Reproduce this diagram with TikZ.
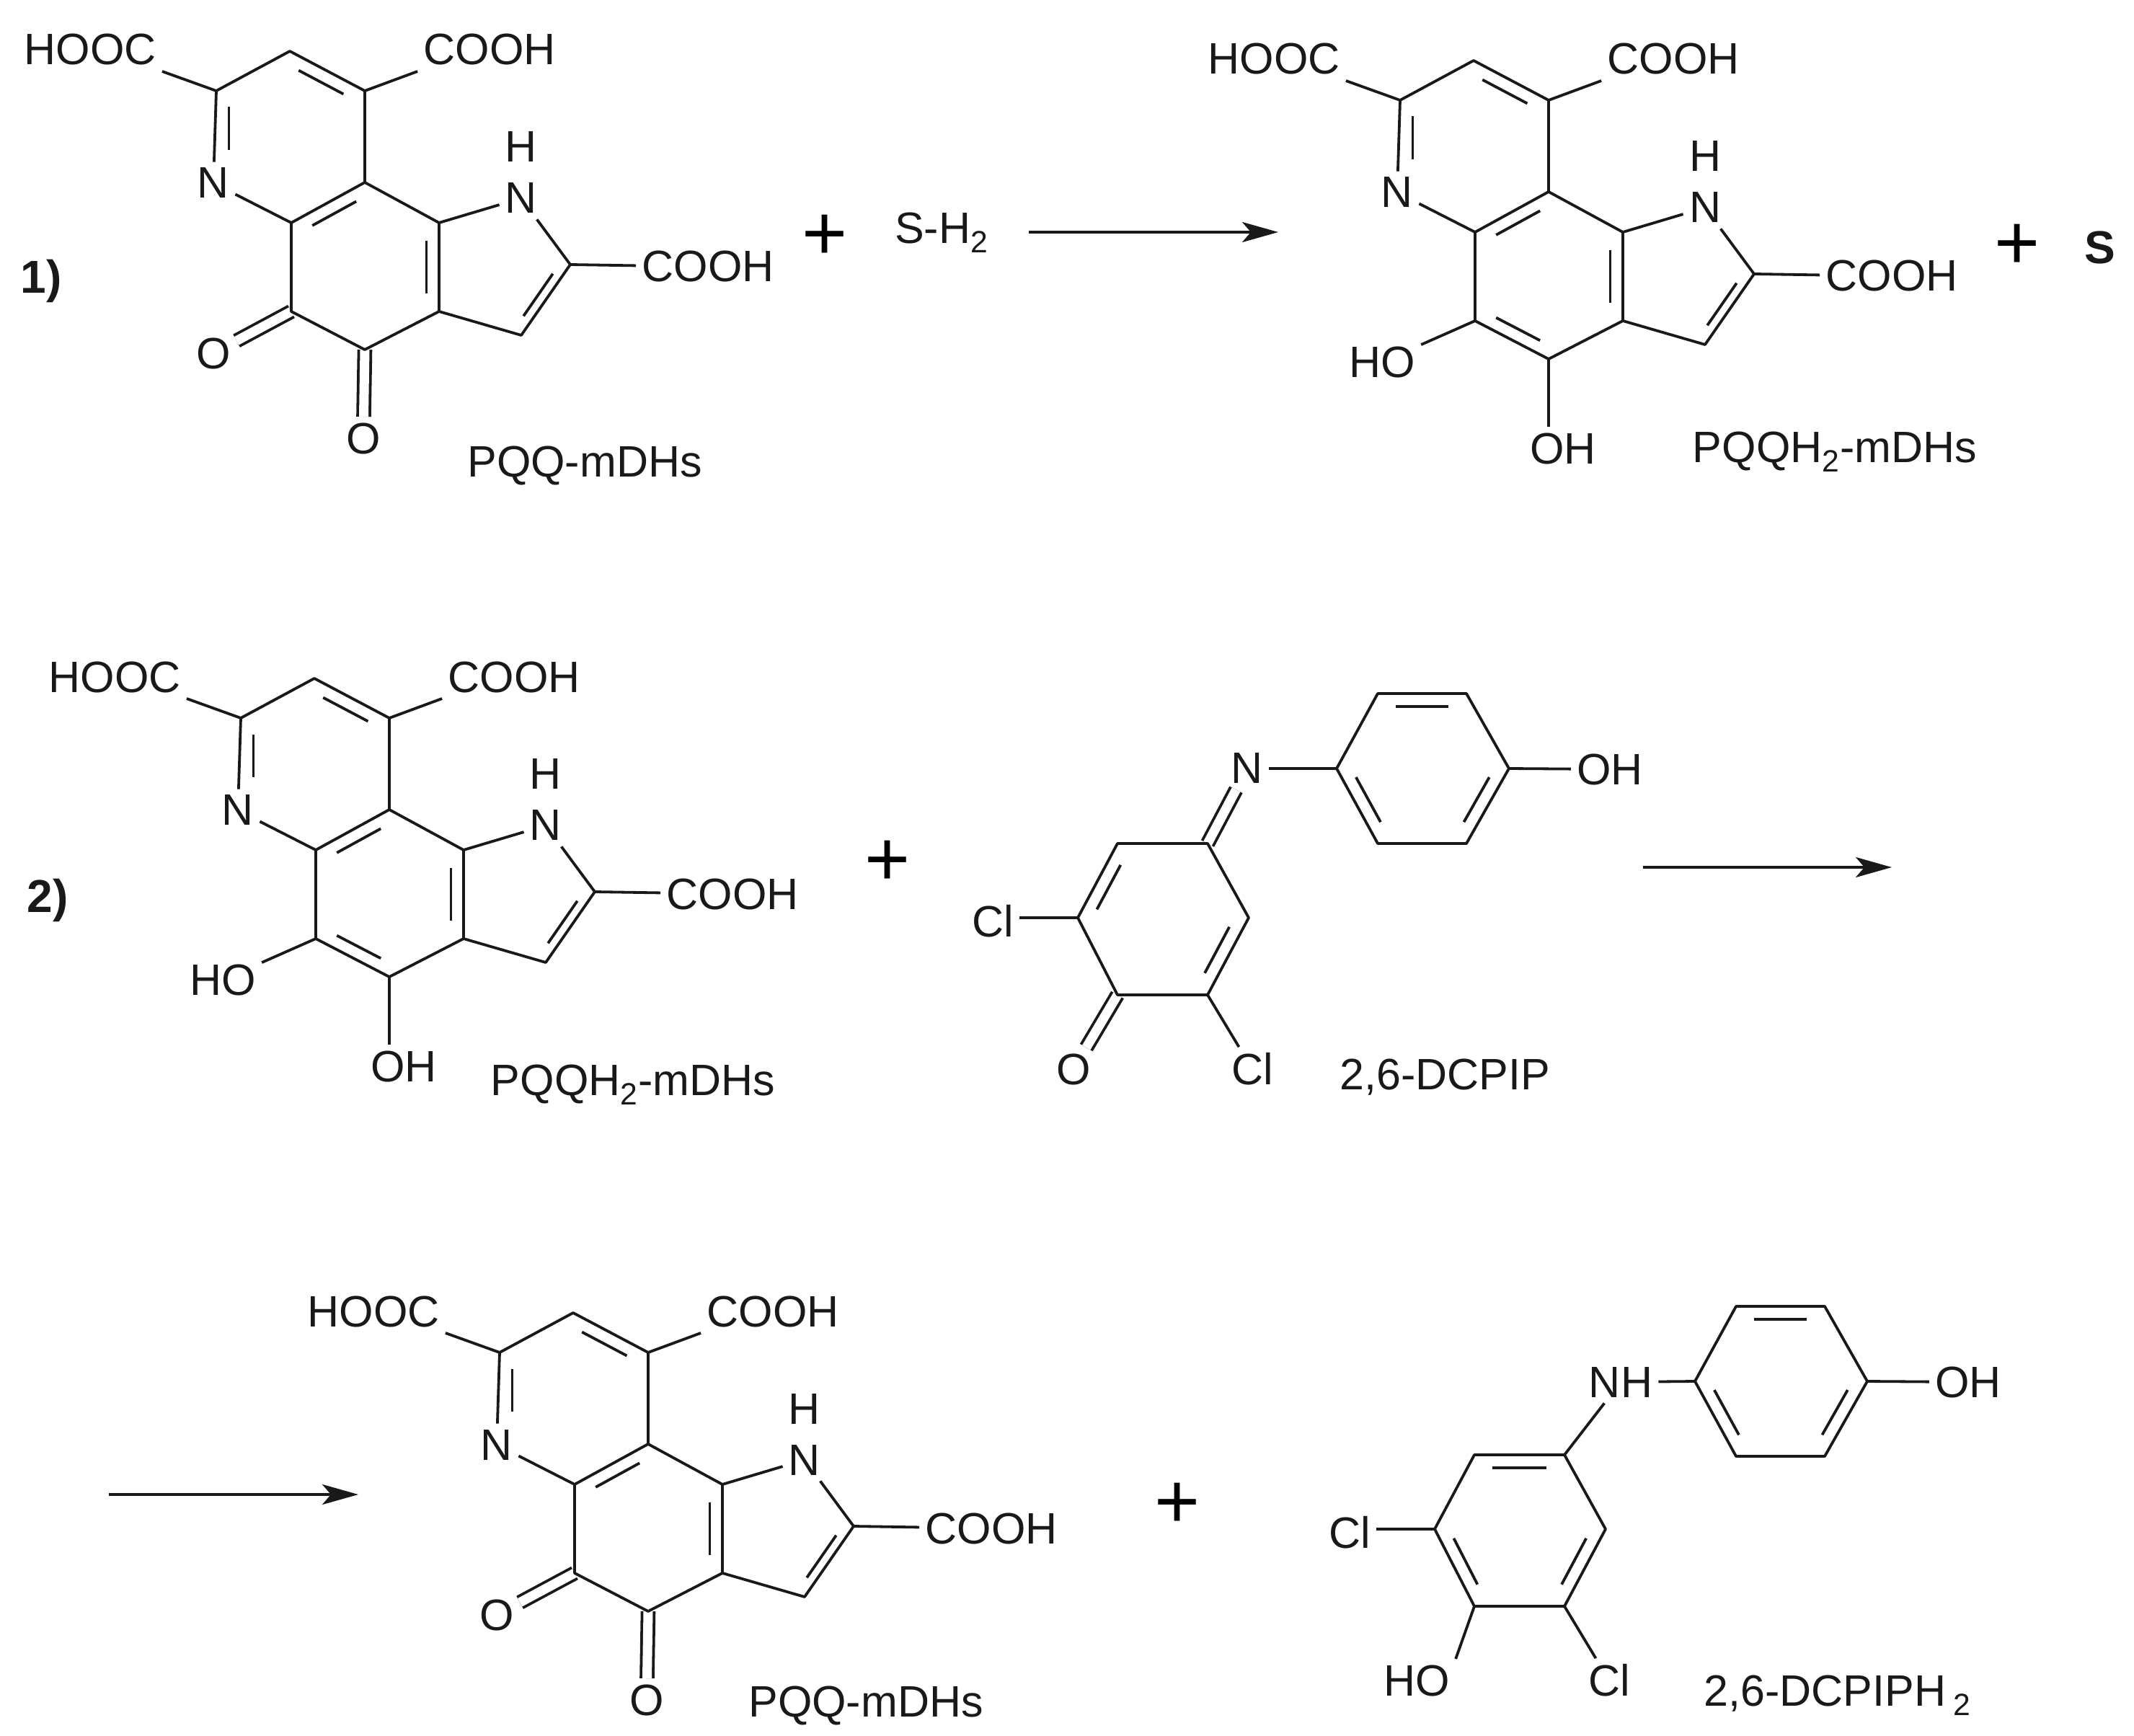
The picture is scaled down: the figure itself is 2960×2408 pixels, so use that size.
\documentclass[tikz,border=0pt]{standalone}
\usepackage{fontspec}
\setmainfont{Liberation Sans}
\usetikzlibrary{arrows.meta,calc}

\newcommand{\innerbond}[3]{\draw[bond] ($(#1)!.14!(#2)!.17!(#3)$) -- ($(#2)!.14!(#1)!.17!(#3)$);}

% tricyclic part shared by both redox forms
\newcommand{\pqqatoms}{
  \coordinate (c7) at (300,126);
  \coordinate (c8) at (402,71);
  \coordinate (c9) at (506,126);
  \coordinate (c9a) at (506,253);
  \coordinate (c4a) at (404,309);
  \coordinate (c5) at (404,432);
  \coordinate (c4) at (506,485);
  \coordinate (c3a) at (609,432);
  \coordinate (c9b) at (609,309);
  \coordinate (c2) at (791,367);
  \coordinate (c3) at (723,465);
  \coordinate (nb) at (300,226);
  \coordinate (pyr) at (403,190);
  \coordinate (mid) at (506,370);
  \coordinate (fiv) at (695,375);
}
\newcommand{\pqqcore}{
  \node[atom] (hooc) at (125,69) {HOOC};
  \node[atom] (cooha) at (679,69) {COOH};
  \node[atom] (coohb) at (982,370) {COOH};
  \node[atom] (n5) at (296,254) {N};
  \node[atom] (n1) at (723,275) {N};
  \node[atom] (h1) at (723,204) {H};
  \draw[bond] (hooc.south east) -- (c7) -- (c8) -- (c9) -- (cooha.south west);
  \draw[bond] (c7) -- (n5) -- (c4a) -- (c9a) -- (c9) (c9a) -- (c9b) -- (n1) -- (c2) -- (coohb);
  \draw[bond] (c4a) -- (c5) -- (c4) -- (c3a) -- (c9b) (c3a) -- (c3) -- (c2);
  \innerbond{c7}{nb}{pyr}
  \innerbond{c8}{c9}{pyr}
  \innerbond{c9a}{c4a}{mid}
  \innerbond{c9b}{c3a}{mid}
  \innerbond{c3}{c2}{fiv}
}
\newcommand{\pqqoxo}{
  \pqqatoms
  \node[atom] (oa) at (296,490) {O};
  \node[atom] (ob) at (504,608) {O};
  \draw[dbond] (c5) -- (oa);
  \draw[dbond] (c4) -- (ob);
  \pqqcore
}
\newcommand{\pqqred}{
  \pqqatoms
  \pqqcore
  \node[atom] (hoa) at (275,489) {HO};
  \node[atom] (hob) at (526,609) {OH};
  \draw[bond] (c5) -- (hoa);
  \draw[bond] (c4) -- (hob.north -| c4);
  \innerbond{c5}{c4}{mid}
}
% the hydroxyphenyl ring, centred on the scope origin
\newcommand{\phenolring}{
  \coordinate (p1) at (-62,-104);
  \coordinate (p2) at (61,-104);
  \coordinate (p3) at (120,0);
  \coordinate (p4) at (61,104);
  \coordinate (p5) at (-62,104);
  \coordinate (p6) at (-119,0);
  \coordinate (pc) at (0,0);
  \node[atom] (oh) at (260,1) {OH};
  \draw[bond] (p1) -- (p2) -- (p3) -- (p4) -- (p5) -- (p6) -- cycle;
  \draw[bond] (p3) -- (oh);
  \innerbond{p1}{p2}{pc}
  \innerbond{p3}{p4}{pc}
  \innerbond{p5}{p6}{pc}
}
% the chlorinated ring, centred on the scope origin
\newcommand{\chloroatoms}{
  \coordinate (r1) at (62,-105);
  \coordinate (r2) at (-63,-105);
  \coordinate (r3) at (-118,-2);
  \coordinate (r4) at (-63,105);
  \coordinate (r5) at (62,105);
  \coordinate (r6) at (119,-2);
  \coordinate (rc) at (0,0);
}
\newcommand{\chlororing}{
  \node[atom] (cla) at (-236,3) {Cl};
  \node[atom] (clb) at (124,208) {Cl};
  \draw[bond] (r1) -- (r2) -- (r3) -- (r4) -- (r5) -- (r6) -- cycle;
  \draw[bond] (r3) -- (cla.east |- r3);
  \draw[bond] (r5) -- (clb);
}

\begin{document}
\begin{tikzpicture}[x=.5pt,y=-.5pt,
    atom/.style={font=\fontsize{30.5}{32}\selectfont,inner sep=4pt,text=black!90},
    caption/.style={atom,inner sep=0pt},
    heavy/.style={font=\fontsize{32}{34}\selectfont\bfseries,inner sep=0pt,text=black!90},
    plus/.style={font=\fontsize{54}{56}\selectfont,inner sep=0pt,text=black},
    bond/.style={line width=1.9pt,draw=black!90,line join=round},
    dbond/.style={bond,double=white,double distance=6.5pt},
    arrow/.style={line width=1.9pt,draw=black!90,-{Stealth[length=25pt,width=14pt,inset=6pt]}}]
  \useasboundingbox (0,0) rectangle (2960,2408);

  \begin{scope}[name prefix=ma-]
    \pqqoxo
  \end{scope}
  \begin{scope}[shift={(1642,13)},name prefix=mb-]
    \pqqred
  \end{scope}
  \begin{scope}[shift={(34,870)},name prefix=mc-]
    \pqqred
  \end{scope}
  \begin{scope}[shift={(393,1750)},name prefix=md-]
    \pqqoxo
  \end{scope}

  \node[heavy] (numa) at (57,390) {1)};
  \node[heavy] (numb) at (66,1249) {2)};
  \node[caption] (capa) at (811,646) {PQQ-mDHs};
  \node[caption] (capb) at (2545,627) {PQQH\textsubscript{2}-mDHs};
  \node[caption] (capc) at (878,1505) {PQQH\textsubscript{2}-mDHs};
  \node[caption] (capd) at (1201,2366) {PQQ-mDHs};
  \node[caption] (sha) at (1306,323) {S-H\textsubscript{2}};
  \node[heavy] (sul) at (2913,343) {S};

  \node[plus] (plusa) at (1144,329) {+};
  \node[plus] (plusb) at (2798,342) {+};
  \node[plus] (plusc) at (1231,1197) {+};
  \node[plus] (plusd) at (1633,2088) {+};

  \coordinate (aas) at (1427,322);
  \coordinate (aae) at (1773,322);
  \coordinate (abs) at (2279,1203);
  \coordinate (abe) at (2624,1203);
  \coordinate (acs) at (151,2073);
  \coordinate (ace) at (497,2073);
  \draw[arrow] (aas) -- (aae);
  \draw[arrow] (abs) -- (abe);
  \draw[arrow] (acs) -- (ace);

  \begin{scope}[shift={(1973,1066)},name prefix=qa-]
    \phenolring
  \end{scope}
  \begin{scope}[shift={(1613,1275)},name prefix=qb-]
    \chloroatoms
    \node[atom] (oxo) at (-124,208) {O};
    \node[atom] (imine) at (117,-209) {N};
    \draw[dbond] (r4) -- (oxo);
    \draw[dbond] (r1) -- (imine);
    \chlororing
    \innerbond{r2}{r3}{rc}
    \innerbond{r5}{r6}{rc}
  \end{scope}
  \draw[bond] (qb-imine) -- (qa-p6);
  \node[caption] (capq) at (2004,1494) {2,6-DCPIP};

  \begin{scope}[shift={(2470,1916)},name prefix=ra-]
    \phenolring
  \end{scope}
  \begin{scope}[shift={(2108,2123)},name prefix=rb-]
    \chloroatoms
    \chlororing
    \node[atom] (hyd) at (-143,208) {HO};
    \node[atom] (amine) at (140,-206) {NH};
    \draw[bond] (r4) -- (hyd.north east);
    \draw[bond] (r1) -- (amine);
    \innerbond{r2}{r1}{rc}
    \innerbond{r3}{r4}{rc}
    \innerbond{r5}{r6}{rc}
  \end{scope}
  \draw[bond] (rb-amine) -- (ra-p6);
  \node[caption] (capr) at (2549,2352) {2,6-DCPIPH\,\textsubscript{2}};
\end{tikzpicture}
\end{document}
